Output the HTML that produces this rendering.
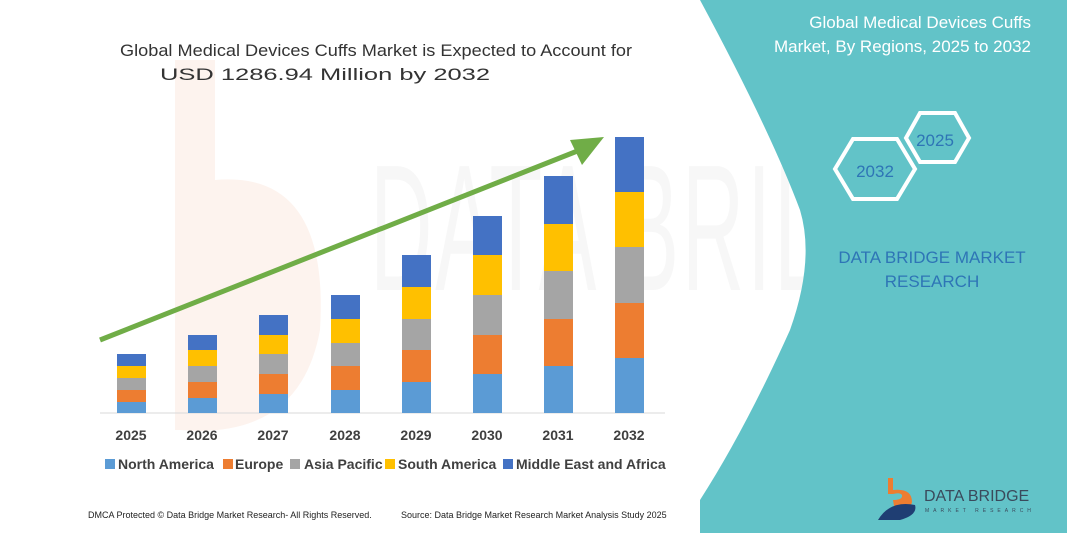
<!DOCTYPE html>
<html><head><meta charset="utf-8"><style>
html,body{margin:0;padding:0;width:1067px;height:533px;overflow:hidden;background:#fff}
svg{display:block}
text{font-family:"Liberation Sans",sans-serif}
</style></head><body>
<svg width="1067" height="533" viewBox="0 0 1067 533" xmlns="http://www.w3.org/2000/svg">
<rect width="1067" height="533" fill="#fff"/>
<path d="M175 60 L215 60 L215 180 Q330 170 320 330 Q300 440 180 430 L175 430 Z" fill="#fdf3ee"/>
<text x="370" y="290" font-size="180" fill="#f7f7f7" letter-spacing="6" textLength="600" lengthAdjust="spacingAndGlyphs">DATA BRIDGE</text>
<path d="M700 0 L1067 0 L1067 533 L700 533 L700 500 Q745 430 790 330 Q815 260 800 210 Q770 130 700 0 Z" fill="#62c3c8"/>
<text x="1031" y="28" font-size="17" fill="#fff" text-anchor="end">Global Medical Devices Cuffs</text>
<text x="1031" y="52" font-size="17" fill="#fff" text-anchor="end">Market, By Regions, 2025 to 2032</text>
<polygon points="853,139 897,139 915,169 897,199 853,199 835,169" fill="none" stroke="#fff" stroke-width="4"/>
<polygon points="920,113 955,113 969,138 955,162 920,162 906,138" fill="none" stroke="#fff" stroke-width="4"/>
<text x="875" y="177" font-size="17" fill="#2e75b6" text-anchor="middle">2032</text>
<text x="935" y="146" font-size="17" fill="#2e75b6" text-anchor="middle">2025</text>
<text x="932" y="263" font-size="17" fill="#2e75b6" text-anchor="middle">DATA BRIDGE MARKET</text>
<text x="932" y="287" font-size="17" fill="#2e75b6" text-anchor="middle">RESEARCH</text>
<path d="M888 478 L893 478 L893 490 Q912 488 912 502 Q910 512 895 512 L893 500 Q903 500 902 495 Q900 492 893 494 L888 494 Z" fill="#ed7d31"/>
<path d="M878 520 Q890 500 915 505 Q918 515 900 520 Z" fill="#1f3e73"/>
<text x="924" y="501" font-size="16" fill="#3a4a5c">DATA BRIDGE</text>
<text x="925" y="512" font-size="5" fill="#3a4a5c" letter-spacing="4">MARKET RESEARCH</text>
<text x="120" y="56" font-size="17" fill="#333" textLength="512" lengthAdjust="spacingAndGlyphs">Global Medical Devices Cuffs Market is Expected to Account for</text>
<text x="160" y="80" font-size="17" fill="#333" textLength="330" lengthAdjust="spacingAndGlyphs">USD 1286.94 Million by 2032</text>
<line x1="100" y1="413" x2="665" y2="413" stroke="#d9d9d9" stroke-width="1"/>
<g>
<rect x="117" y="354" width="29" height="12" fill="#4472c4"/><rect x="117" y="366" width="29" height="12" fill="#ffc000"/><rect x="117" y="378" width="29" height="12" fill="#a5a5a5"/><rect x="117" y="390" width="29" height="12" fill="#ed7d31"/><rect x="117" y="402" width="29" height="11" fill="#5b9bd5"/>
<rect x="188" y="335" width="29" height="15" fill="#4472c4"/><rect x="188" y="350" width="29" height="16" fill="#ffc000"/><rect x="188" y="366" width="29" height="16" fill="#a5a5a5"/><rect x="188" y="382" width="29" height="16" fill="#ed7d31"/><rect x="188" y="398" width="29" height="15" fill="#5b9bd5"/>
<rect x="259" y="315" width="29" height="20" fill="#4472c4"/><rect x="259" y="335" width="29" height="19" fill="#ffc000"/><rect x="259" y="354" width="29" height="20" fill="#a5a5a5"/><rect x="259" y="374" width="29" height="20" fill="#ed7d31"/><rect x="259" y="394" width="29" height="19" fill="#5b9bd5"/>
<rect x="331" y="295" width="29" height="24" fill="#4472c4"/><rect x="331" y="319" width="29" height="24" fill="#ffc000"/><rect x="331" y="343" width="29" height="23" fill="#a5a5a5"/><rect x="331" y="366" width="29" height="24" fill="#ed7d31"/><rect x="331" y="390" width="29" height="23" fill="#5b9bd5"/>
<rect x="402" y="255" width="29" height="32" fill="#4472c4"/><rect x="402" y="287" width="29" height="32" fill="#ffc000"/><rect x="402" y="319" width="29" height="31" fill="#a5a5a5"/><rect x="402" y="350" width="29" height="32" fill="#ed7d31"/><rect x="402" y="382" width="29" height="31" fill="#5b9bd5"/>
<rect x="473" y="216" width="29" height="39" fill="#4472c4"/><rect x="473" y="255" width="29" height="40" fill="#ffc000"/><rect x="473" y="295" width="29" height="40" fill="#a5a5a5"/><rect x="473" y="335" width="29" height="39" fill="#ed7d31"/><rect x="473" y="374" width="29" height="39" fill="#5b9bd5"/>
<rect x="544" y="176" width="29" height="48" fill="#4472c4"/><rect x="544" y="224" width="29" height="47" fill="#ffc000"/><rect x="544" y="271" width="29" height="48" fill="#a5a5a5"/><rect x="544" y="319" width="29" height="47" fill="#ed7d31"/><rect x="544" y="366" width="29" height="47" fill="#5b9bd5"/>
<rect x="615" y="137" width="29" height="55" fill="#4472c4"/><rect x="615" y="192" width="29" height="55" fill="#ffc000"/><rect x="615" y="247" width="29" height="56" fill="#a5a5a5"/><rect x="615" y="303" width="29" height="55" fill="#ed7d31"/><rect x="615" y="358" width="29" height="55" fill="#5b9bd5"/>
</g>
<g font-size="14" font-weight="bold" fill="#404040" text-anchor="middle">
<text x="131" y="440">2025</text><text x="202" y="440">2026</text><text x="273" y="440">2027</text><text x="345" y="440">2028</text><text x="416" y="440">2029</text><text x="487" y="440">2030</text><text x="558" y="440">2031</text><text x="629" y="440">2032</text>
</g>
<line x1="100" y1="340" x2="585" y2="148" stroke="#70ad47" stroke-width="5"/>
<polygon points="604,137 570,140 582,165" fill="#70ad47"/>
<g font-size="14" font-weight="bold" fill="#404040">
<rect x="105" y="459" width="10" height="10" fill="#5b9bd5"/><text x="118" y="469">North America</text>
<rect x="223" y="459" width="10" height="10" fill="#ed7d31"/><text x="235" y="469">Europe</text>
<rect x="290" y="459" width="10" height="10" fill="#a5a5a5"/><text x="304" y="469">Asia Pacific</text>
<rect x="385" y="459" width="10" height="10" fill="#ffc000"/><text x="398" y="469">South America</text>
<rect x="503" y="459" width="10" height="10" fill="#4472c4"/><text x="516" y="469">Middle East and Africa</text>
</g>
<text x="88" y="518" font-size="9" fill="#222" font-family="Liberation Serif,serif">DMCA Protected © Data Bridge Market Research-  All Rights Reserved.</text>
<text x="401" y="518" font-size="9" fill="#222" font-family="Liberation Serif,serif">Source: Data Bridge Market Research  Market Analysis Study 2025</text>
</svg>
</body></html>
